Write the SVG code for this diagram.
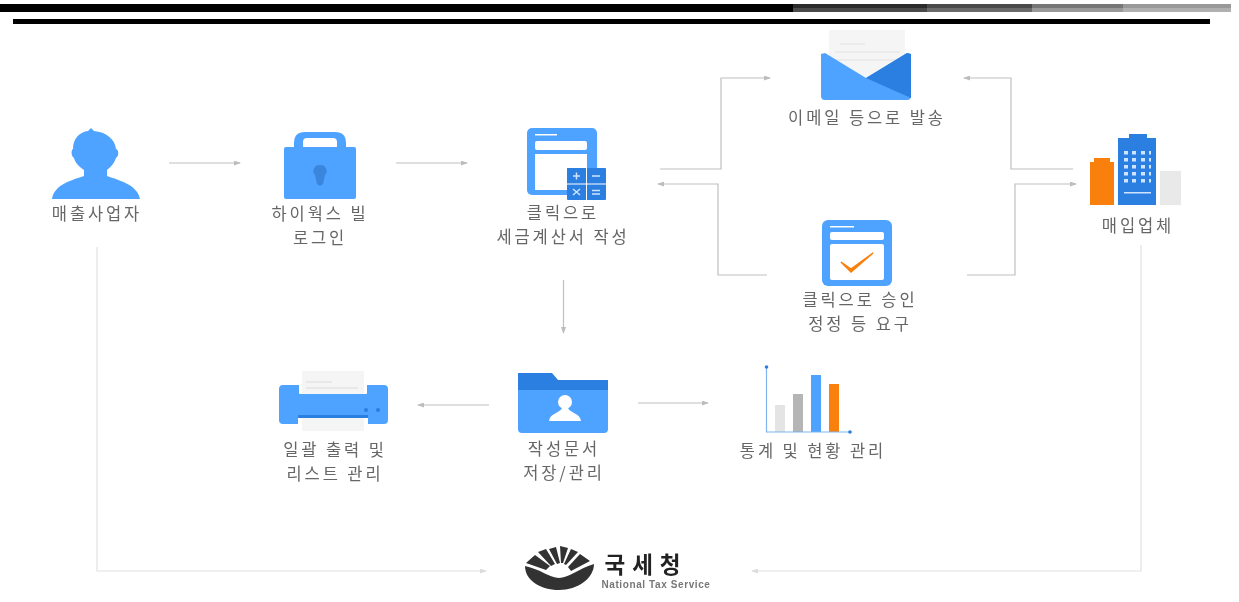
<svg xmlns="http://www.w3.org/2000/svg" width="1239" height="602" viewBox="0 0 1239 602">
<style>
text{font-family:"Noto Sans CJK KR","Noto Sans",sans-serif;font-size:16.5px;fill:#666;text-anchor:middle;letter-spacing:2.9px}
.b{fill:#4da3ff}.d{fill:#2a7fe0}.o{fill:#f98010}.p{fill:#f5f5f5}.w{fill:#fff}
.c{fill:none;stroke:#c0c0c0;stroke-width:1.200}
.l{fill:none;stroke:#e2e2e2;stroke-width:1.200}
</style>
<defs>
<marker id="a" markerWidth="7" markerHeight="5" refX="6" refY="2.500" orient="auto" markerUnits="userSpaceOnUse"><path d="M0 0L7 2.500L0 5Z" fill="#bdbdbd"/></marker>
<marker id="al" markerWidth="7" markerHeight="5" refX="6" refY="2.500" orient="auto" markerUnits="userSpaceOnUse"><path d="M0 0L7 2.500L0 5Z" fill="#dcdcdc"/></marker>
<filter id="s" x="-5%" y="-5%" width="110%" height="110%"><feGaussianBlur stdDeviation="0.5"/></filter>
</defs>
<rect width="1239" height="602" fill="#fff"/>
<g id="rules">
<rect x="0" y="4" width="793" height="8" fill="#000"/>
<rect x="793" y="4" width="134" height="4" fill="#2b2b2b"/><rect x="793" y="8" width="134" height="4" fill="#4a4a4a"/>
<rect x="927" y="4" width="105" height="4" fill="#4a4a4a"/><rect x="927" y="8" width="105" height="4" fill="#6a6a6a"/>
<rect x="1032" y="4" width="91" height="4" fill="#777"/><rect x="1032" y="8" width="91" height="4" fill="#999"/>
<rect x="1123" y="4" width="108" height="4" fill="#999"/><rect x="1123" y="8" width="108" height="4" fill="#b0b0b0"/>
<rect x="13" y="19" width="1197" height="5" fill="#000"/>
</g>
<g filter="url(#s)">
<g id="connectors">
<path class="c" marker-end="url(#a)" d="M169 163H240"/>
<path class="c" marker-end="url(#a)" d="M396 163H467"/>
<path class="c" marker-end="url(#a)" d="M660 169H721V78H770"/>
<path class="c" marker-end="url(#a)" d="M767 275H718V184H658"/>
<path class="c" marker-end="url(#a)" d="M1073 169H1011V78H964"/>
<path class="c" marker-end="url(#a)" d="M967 275H1015V184H1076"/>
<path class="c" marker-end="url(#a)" d="M563.500 280V333"/>
<path class="c" marker-end="url(#a)" d="M489 405H418"/>
<path class="c" marker-end="url(#a)" d="M638 403H708"/>
<path class="l" marker-end="url(#al)" d="M97 247V571H486"/>
<path class="l" marker-end="url(#al)" d="M1141 245V571H752"/>
</g>
<g id="seller">
<path class="b" d="M52 199C54 186 68 181 84 176V170C78 166 75 162 74 158C71 156 71 150 73 149C73 138 80 132 88 131L91 128L94 131C106 132 115 139 116 149C119 150 119 156 116 158C114 163 112 166 107 170V176C122 181 138 186 140 199Z"/>
<text x="97" y="220">매출사업자</text>
</g>
<g id="login">
<path class="b" d="M294 148V143Q294 132 305 132H335Q346 132 346 143V148H337V142Q337 138 333 138H307Q303 138 303 142V148Z"/>
<rect class="b" x="284" y="147" width="72" height="52" rx="2"/>
<path d="M320 165a6 6 0 0 1 5 10l-2 9q-3 3-6 0l-2-9a6 6 0 0 1 5-10Z" fill="#3a86dd"/>
<text x="320" y="219.500">하이웍스 빌</text>
<text x="320" y="243.500">로그인</text>
</g>
<g id="invoice">
<rect class="b" x="527" y="128" width="70" height="67" rx="5"/>
<rect class="w" x="535" y="141" width="52" height="9" rx="2"/>
<path class="w" d="M535 154H587V168H567V190H535Z"/>
<rect class="w" x="535" y="134" width="22" height="1.500"/>
<rect class="d" x="567" y="168" width="39" height="32" rx="1"/>
<path d="M586.500 168V200M567 184H606" stroke="#fff" stroke-width="1" fill="none"/>
<path d="M573 176H580M576.500 172.500V179.500M592 176H600M573 189L580 195M580 189L573 195M592 190.500H600M592 194H600" stroke="#cfe4ff" stroke-width="1.500" fill="none"/>
<text x="563" y="218.500">클릭으로</text>
<text x="563" y="242.500">세금계산서 작성</text>
</g>
<g id="email">
<rect class="p" x="829" y="30" width="76" height="50"/>
<path d="M840 44H865M835 52H900M835 60H900" stroke="#e8e8e8" stroke-width="1.500" fill="none"/>
<path class="b" d="M821 54L825 53L866 78L907 53L911 54V96Q911 100 907 100H825Q821 100 821 96Z"/>
<path class="d" d="M866 78L907 53L911 54V98Z"/>
<text x="867" y="123.500">이메일 등으로 발송</text>
</g>
<g id="approve">
<rect class="b" x="822" y="220" width="70" height="66" rx="6"/>
<rect class="w" x="830" y="232" width="54" height="8" rx="2"/>
<rect class="w" x="830" y="244" width="54" height="36" rx="2"/>
<rect class="w" x="830" y="226" width="24" height="1.500"/>
<path d="M841 262L851 269L873 253L851 272Z" fill="#f98010" stroke="#f98010" stroke-width="1.500"/>
<text x="860" y="306">클릭으로 승인</text>
<text x="860" y="330">정정 등 요구</text>
</g>
<g id="buyer">
<rect x="1160" y="171" width="21" height="34" fill="#e9e9e9"/>
<path class="o" d="M1090 205V162H1094V158H1110V162H1114V205Z"/>
<path class="d" d="M1118 205V138H1129V134H1147V138H1156V205Z"/>
<g fill="#cfe4ff"><rect x="1124" y="151" width="27" height="3.500"/><rect x="1124" y="158" width="27" height="3.500"/><rect x="1124" y="165" width="27" height="3.500"/><rect x="1124" y="172" width="27" height="3.500"/><rect x="1124" y="179" width="27" height="3.500"/><rect x="1124" y="192" width="27" height="1.500"/></g>
<g fill="#2a7fe0"><rect x="1128" y="150" width="4" height="34"/><rect x="1136" y="150" width="5" height="34"/><rect x="1145" y="150" width="4" height="34"/></g>
<text x="1138" y="231.500">매입업체</text>
</g>
<g id="storage">
<path class="d" d="M518 373H552L558 380H608V392H518Z"/>
<path class="b" d="M518 390H608V429Q608 433 604 433H522Q518 433 518 429Z"/>
<circle class="w" cx="565" cy="402" r="7"/>
<path class="w" d="M549 421C550 413 560 413 562 408H568C570 413 580 413 581 421Z"/>
<text x="564" y="454.500">작성문서</text>
<text x="564" y="478.500">저장/관리</text>
</g>
<g id="printer">
<rect class="p" x="302" y="371" width="62" height="60"/>
<path d="M306 382H332M306 388H358" stroke="#e4e4e4" stroke-width="1.500" fill="none"/>
<path class="b" d="M279 389Q279 385 283 385H299V393Q299 394 300 394H366Q367 394 367 393V385H384Q388 385 388 389V420Q388 424 384 424H368V418H298V424H283Q279 424 279 420Z"/>
<rect x="298" y="415" width="70" height="3" fill="#2a7fe0"/>
<circle cx="366" cy="410" r="2" fill="#2a7fe0"/><circle cx="378" cy="410" r="2" fill="#2a7fe0"/>
<text x="335" y="456">일괄 출력 및</text>
<text x="335" y="480">리스트 관리</text>
</g>
<g id="stats">
<rect x="775" y="405" width="10" height="27" fill="#e4e4e4"/>
<rect x="793" y="394" width="10" height="38" fill="#b5b5b5"/>
<rect class="b" x="811" y="375" width="10" height="57"/>
<rect class="o" x="829" y="384" width="10" height="48"/>
<path d="M766.500 367V432H850" fill="none" stroke="#7fb4ee" stroke-width="1.200"/>
<circle cx="766.500" cy="367" r="1.800" fill="#2a7fe0"/><circle cx="850" cy="432" r="1.800" fill="#2a7fe0"/>
<text x="813" y="456.500">통계 및 현황 관리</text>
</g>
<g id="nts">
<path fill="#333" d="M525 566C540 569 550 578 559 578C568 578 578 569 594 564C594 578 578 590 559 590C540 590 525 580 525 566Z"/>
<path fill="#333" d="M526 563L535 555L550 566L546 570Z M538 552L546 549L555 564L551 566Z M549 549L556 547L560 563L557 564Z M560 546L568 548L563 563L561 563Z M571 549L578 552L566 565L564 564Z M580 554L590 561L571 571L568 567Z"/>
<text x="646" y="572.500" style="font-size:22.500px;font-weight:700;fill:#222;letter-spacing:7px">국세청</text>
<text x="656" y="588" style="font-family:'Liberation Sans',sans-serif;font-size:10px;font-weight:700;fill:#777;letter-spacing:.6px">National Tax Service</text>
</g>
</g>
</svg>
